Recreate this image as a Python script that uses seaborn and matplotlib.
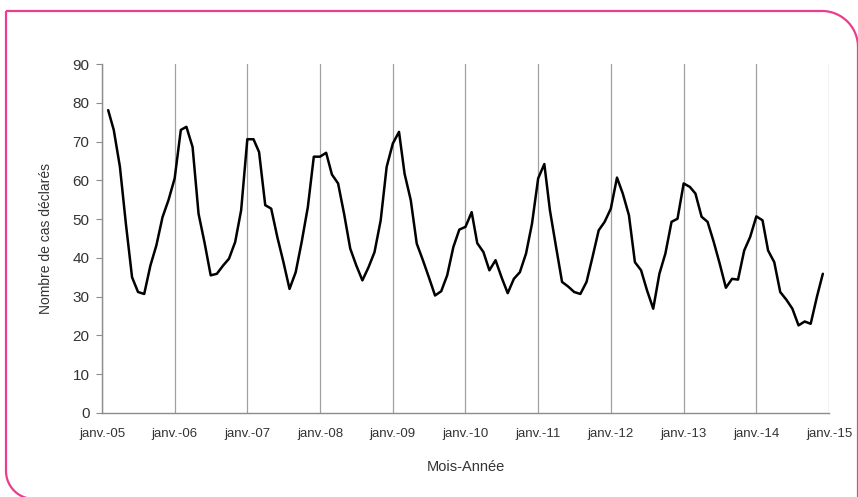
import numpy as np
import pandas as pd
import matplotlib
matplotlib.use("Agg")
import matplotlib.pyplot as plt
from matplotlib.path import Path
from matplotlib.patches import PathPatch
from matplotlib.transforms import IdentityTransform
import seaborn as sns

# monthly reported cases, Feb 2005 -> Dec 2014
start_month = "2005-02-01"
cases = [
    78.1, 73.0, 63.5, 48.8, 35.0, 31.2, 30.7, 38.0, 43.2, 50.5, 54.9, 60.5,
    73.0, 73.8, 68.6, 51.4, 43.7, 35.5, 35.9, 38.0, 39.8, 44.1, 52.3, 70.6,
    70.6, 67.3, 53.6, 52.7, 45.3, 39.0, 32.0, 36.3, 44.1, 53.1, 66.1, 66.1,
    67.1, 61.5, 59.2, 51.4, 42.4, 38.1, 34.2, 37.6, 41.5, 49.7, 63.5, 69.5,
    72.5, 61.7, 54.9, 43.7, 39.4, 35.0, 30.3, 31.4, 35.5, 42.8, 47.3, 48.0,
    51.8, 43.8, 41.5, 36.8, 39.4, 35.0, 30.9, 34.6, 36.3, 41.1, 48.8, 60.5,
    64.2, 52.3, 42.8, 33.8, 32.6, 31.2, 30.7, 33.8, 40.2, 47.1, 49.3, 52.7,
    60.7, 56.6, 51.0, 38.9, 36.8, 31.6, 26.9, 35.9, 41.1, 49.3, 50.1, 59.2,
    58.3, 56.6, 50.6, 49.3, 44.1, 38.5, 32.3, 34.6, 34.4, 41.9, 45.4, 50.7,
    49.7, 41.9, 38.9, 31.2, 29.2, 26.9, 22.6, 23.6, 23.0, 29.9, 35.9,
]
years = list(range(2005, 2016))
year_labels = ["janv.-%02d" % (y % 100) for y in years]
y_ticks = list(range(0, 100, 10))

df = pd.DataFrame({
    "mois": pd.date_range(start_month, periods=len(cases), freq="MS"),
    "cas": cases,
})

sns.set_style("white")
plt.rcParams["font.family"] = ["Liberation Sans", "DejaVu Sans"]

W, H = 858, 497
fig = plt.figure(figsize=(W / 100, H / 100), dpi=100)
ax = fig.add_axes([102 / W, 1 - 413 / H, (829 - 102) / W, (413 - 64) / H])

sns.lineplot(data=df, x="mois", y="cas", ax=ax, color="black", linewidth=1.8)

ax.set_xlim(pd.Timestamp("2005-01-01"), pd.Timestamp("2015-01-01"))
ax.set_ylim(0, 90)
ax.set_yticks(y_ticks)
ax.set_xticks([pd.Timestamp("%d-01-01" % y) for y in years])
ax.set_xticklabels(year_labels)

ax.grid(axis="x", color="#a0a0a0", linewidth=0.9)
ax.grid(axis="y", visible=False)
for side in ["top", "right"]:
    ax.spines[side].set_visible(False)
for side in ["left", "bottom"]:
    ax.spines[side].set_color("#8c8c8c")
    ax.spines[side].set_linewidth(1.0)

ax.tick_params(axis="y", which="major", left=True, length=4, color="#8c8c8c",
               labelsize=11, labelcolor="#333333", pad=5)
ax.tick_params(axis="x", which="major", bottom=False, labelsize=9.5,
               labelcolor="#333333", pad=7)

ax.set_ylabel("Nombre de cas déclarés", fontsize=10, color="#333333", labelpad=14)
ax.set_xlabel("Mois-Année", fontsize=10.5, color="#333333", labelpad=15)

# pink frame around the figure (square top-left, rounded top-right and bottom-left)
left, top, right = 6, H - 11, 858
r_tr, r_bl = 36, 28
pts = [(left, top)]
a = np.linspace(np.pi / 2, 0, 20)
pts += [(right - r_tr + r_tr * np.cos(t), top - r_tr + r_tr * np.sin(t)) for t in a]
pts.append((right, -10))
cx, cy = left + r_bl, -2 + r_bl
pts.append((cx, -10))
a = np.linspace(np.pi * 1.5, np.pi, 20)
pts += [(cx + r_bl * np.cos(t), cy + r_bl * np.sin(t)) for t in a]
pts.append((left, top))
frame = PathPatch(Path(pts), facecolor="none", edgecolor="#ec3d8d",
                  linewidth=1.6, transform=IdentityTransform(), clip_on=False)
fig.add_artist(frame)

fig.savefig("out.png", dpi=100)
